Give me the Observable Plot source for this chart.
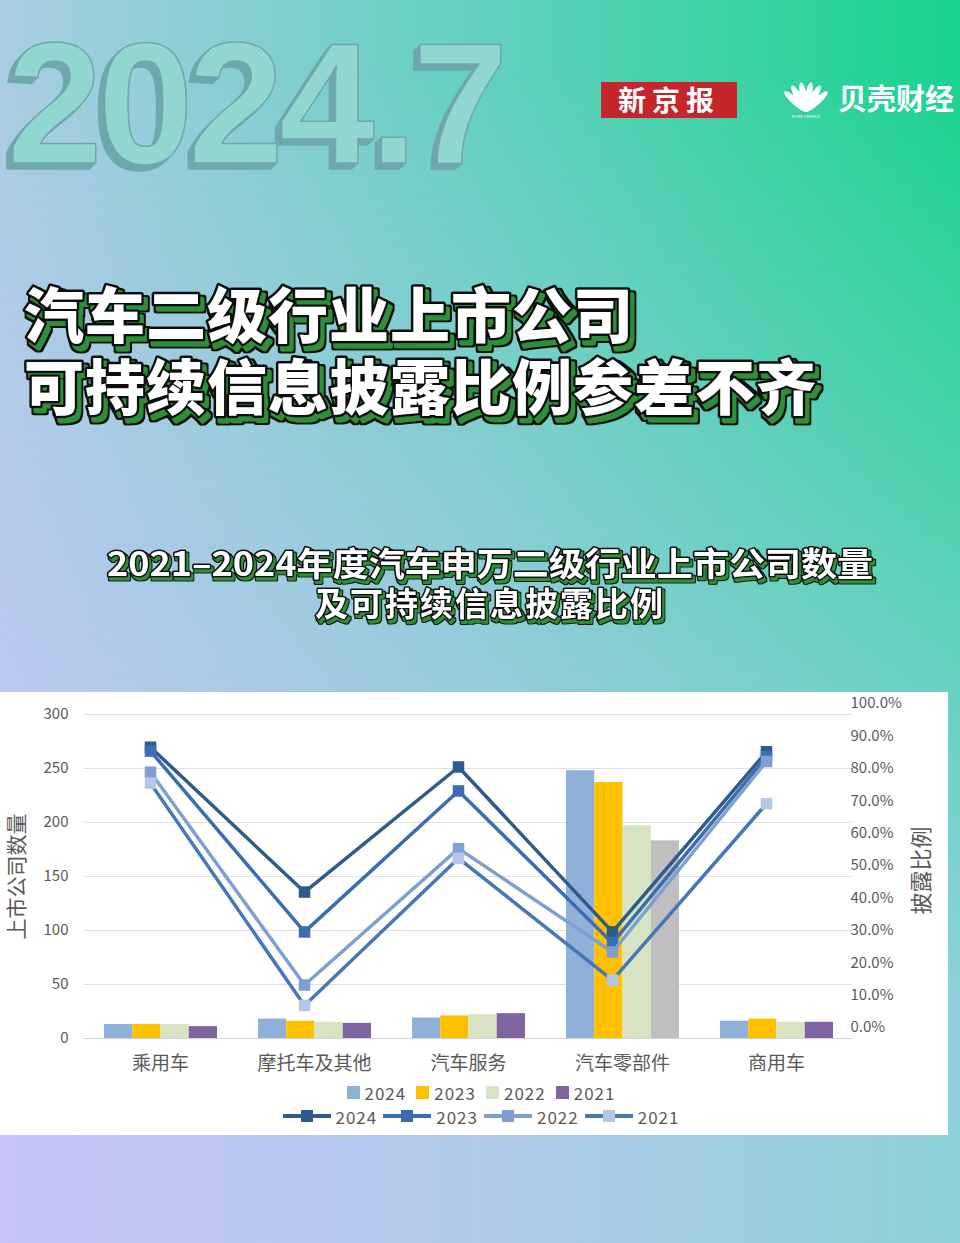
<!DOCTYPE html>
<html><head><meta charset="utf-8">
<script src="https://cdn.jsdelivr.net/npm/d3@7"></script>
<script src="https://cdn.jsdelivr.net/npm/@observablehq/plot@0.6"></script>
<style>
html,body{margin:0;padding:0;}
body{width:960px;height:1243px;position:relative;overflow:hidden;font-family:"Noto Sans CJK SC","Noto Sans",sans-serif;}
.bg1{position:absolute;left:0;top:0;width:960px;height:1243px;background:linear-gradient(to right,#a9cde3 0%,#62d1bf 50%,#18d38d 100%);}
.bg2{position:absolute;left:0;top:0;width:960px;height:1243px;background:linear-gradient(to right,#c6c5f6 0%,#b1c9ea 50%,#8dd1d8 100%);
 -webkit-mask-image:linear-gradient(to bottom,rgba(0,0,0,0) 5%,rgba(0,0,0,1) 80%);mask-image:linear-gradient(to bottom,rgba(0,0,0,0) 5%,rgba(0,0,0,1) 80%);}
#header{position:absolute;left:0;top:0;}
#panel{position:absolute;left:0;top:692px;width:948px;height:443px;background:#fff;}
#chart{position:absolute;left:0;top:0;}
#legend{position:absolute;left:0;top:388px;width:962px;color:#595959;font-size:17px;letter-spacing:1px;}
.row{display:flex;justify-content:center;align-items:center;height:24px;}
.item{display:flex;align-items:center;margin:0 5px;}
.item svg{display:block;margin-right:5px;}
</style></head>
<body>
<div class="bg1"></div><div class="bg2"></div>
<svg id="header" width="960" height="680" xmlns="http://www.w3.org/2000/svg">
  <defs>
    <filter id="extrude" x="-3%" y="-5%" width="106%" height="112%">
      <feFlood flood-color="#6ea8ad"/>
      <feComposite in2="SourceAlpha" operator="in" result="c"/>
      <feOffset in="c" dx="-2" dy="2" result="o1"/>
      <feOffset in="c" dx="-4" dy="4" result="o2"/>
      <feOffset in="c" dx="-6" dy="6" result="o3"/>
      <feMerge><feMergeNode in="o3"/><feMergeNode in="o2"/><feMergeNode in="o1"/><feMergeNode in="SourceGraphic"/></feMerge>
    </filter>
    <filter id="tshadow" x="-2%" y="-5%" width="104%" height="115%">
      <feOffset in="SourceAlpha" dx="4" dy="5" result="off"/>
      <feFlood flood-color="#2f8f3a"/>
      <feComposite in2="off" operator="in" result="green"/>
      <feMorphology in="off" operator="dilate" radius="1.5" result="offd"/>
      <feFlood flood-color="#111"/>
      <feComposite in2="offd" operator="in" result="black"/>
      <feMerge><feMergeNode in="black"/><feMergeNode in="green"/><feMergeNode in="SourceGraphic"/></feMerge>
    </filter>
    <filter id="sshadow" x="-2%" y="-5%" width="104%" height="112%">
      <feOffset in="SourceAlpha" dx="2" dy="3" result="off"/>
      <feFlood flood-color="#2f8f3a"/>
      <feComposite in2="off" operator="in" result="green"/>
      <feMorphology in="off" operator="dilate" radius="1" result="offd"/>
      <feFlood flood-color="#111"/>
      <feComposite in2="offd" operator="in" result="black"/>
      <feMerge><feMergeNode in="black"/><feMergeNode in="green"/><feMergeNode in="SourceGraphic"/></feMerge>
    </filter>
  </defs>
  <text x="7" y="163" font-family="Liberation Sans, Arial, sans-serif" font-size="172" font-weight="700" letter-spacing="-5"
        fill="#92d7cf" stroke="#6ea8ad" stroke-width="1.5" filter="url(#extrude)">2024.7</text>
  <rect x="601" y="82" width="136" height="36" fill="#c4262c"/>
  <text x="669" y="111" text-anchor="middle" fill="#fff" font-size="28" font-weight="700" letter-spacing="6" font-family="Noto Sans CJK SC">新京报</text>
  <g id="shell" fill="#fff"></g>
  <text x="838" y="110" fill="#fff" font-size="29" font-weight="700" font-family="Noto Sans CJK SC">贝壳财经</text>
  <text font-family="Noto Sans CJK SC" font-weight="900" font-size="60" letter-spacing="1" paint-order="stroke" stroke-linejoin="round"
        fill="#fff" stroke="#111" stroke-width="5" filter="url(#tshadow)"><tspan x="24" y="338">汽车二级行业上市公司</tspan><tspan x="24" y="410">可持续信息披露比例参差不齐</tspan></text>
  <text font-family="Noto Sans CJK SC" font-weight="700" font-size="33" text-anchor="middle" paint-order="stroke" stroke-linejoin="round"
        fill="#fff" stroke="#111" stroke-width="3" filter="url(#sshadow)"><tspan x="490" y="576" textLength="766" lengthAdjust="spacingAndGlyphs">2021–2024年度汽车申万二级行业上市公司数量</tspan><tspan x="490" y="616" letter-spacing="2">及可持续信息披露比例</tspan></text>
</svg>
<div id="panel">
  <div id="chart"></div>
  <div id="legend"></div>
</div>
<script>
const categories = ["乘用车", "摩托车及其他", "汽车服务", "汽车零部件", "商用车"];
const years = ["2024", "2023", "2022", "2021"];

// 上市公司数量 (bars)
const count2024 = [13, 18, 19, 248, 16];
const count2023 = [13, 16, 21, 237, 18];
const count2022 = [13, 15, 22, 197, 15];
const count2021 = [11, 14, 23, 183, 15];

// 披露比例 % (lines)
const ratio2024 = [89.9, 45.2, 83.8, 32.9, 88.5];
const ratio2023 = [88.7, 32.9, 76.4, 29.5, 87.0];
const ratio2022 = [82.2, 16.5, 58.6, 26.7, 85.5];
const ratio2021 = [78.8, 10.2, 55.6, 18.0, 72.5];

const countTicks = [0, 50, 100, 150, 200, 250, 300];
const ratioTicks = [0, 10, 20, 30, 40, 50, 60, 70, 80, 90, 100];

const countsByYear = {"2024": count2024, "2023": count2023, "2022": count2022, "2021": count2021};
const ratiosByYear = {"2024": ratio2024, "2023": ratio2023, "2022": ratio2022, "2021": ratio2021};

const barFill = {"2024": "#8fb1d9", "2023": "#ffc000", "2022": "#d7e3c3", "2021": "#8064a2"};
const lineStroke = {"2024": "#2f5b8b", "2023": "#3a6eae", "2022": "#7e9fd0", "2021": "#4677b6"};
const markerFill = {"2024": "#2f5b8b", "2023": "#3a6eae", "2022": "#7e9fd0", "2021": "#b5c7e6"};

const ratioToCount = 3; // 100% on the right axis = 300 on the left axis

const barRows = years.flatMap(y => categories.map((c, j) => ({category: c, year: y, count: countsByYear[y][j]})));
const lineRows = years.flatMap(y => categories.map((c, j) => ({category: c, year: y, ratio: ratiosByYear[y][j]})));

const band = 154, groupStart = 21, barW = 28.25;
const barMarks = years.map((y, i) => Plot.barY(barRows.filter(d => d.year === y), {
  x: "category", y: "count",
  fill: d => (d.category === "汽车零部件" && d.year === "2021") ? "#bfbfbf" : barFill[y],
  insetLeft: groupStart + barW * i,
  insetRight: band - groupStart - barW * (i + 1)
}));

const lineMarks = years.flatMap(y => {
  const rows = lineRows.filter(d => d.year === y);
  return [
    Plot.line(rows, {x: "category", y: d => d.ratio * ratioToCount, stroke: lineStroke[y], strokeWidth: 3.5, dx: -10}),
    Plot.dot(rows, {x: "category", y: d => d.ratio * ratioToCount, symbol: "square", r: 6.5, fill: markerFill[y], dx: -10})
  ];
});

const chart = Plot.plot({
  width: 948, height: 388,
  marginLeft: 83, marginRight: 95, marginTop: 22, marginBottom: 42,
  style: {background: "transparent", fontFamily: "'Noto Sans CJK SC', 'Noto Sans', sans-serif", color: "#595959", overflow: "visible"},
  x: {domain: categories, padding: 0},
  y: {domain: [0, 300]},
  color: {type: "identity"},
  marks: [
    Plot.gridY(countTicks.filter(d => d > 0), {stroke: "#e0e0e0", strokeOpacity: 1}),
    Plot.ruleY([0], {stroke: "#d4d4d4"}),
    ...barMarks,
    Plot.axisY(countTicks, {anchor: "left", tickSize: 0, tickPadding: 15, fontSize: 15, fill: "#595959", label: null}),
    Plot.axisY(ratioTicks.map(r => r * ratioToCount), {anchor: "right", tickSize: 0, tickPadding: -3, dy: -11, fontSize: 15, fill: "#595959",
      tickFormat: d => (d / ratioToCount).toFixed(1) + "%", label: null}),
    Plot.axisX({tickSize: 0, tickPadding: 18, fontSize: 19, fill: "#595959", label: null}),
    Plot.text(["上市公司数量"], {frameAnchor: "left", rotate: -90, dx: -66, fontSize: 21, fill: "#595959", textAnchor: "middle", lineAnchor: "middle"}),
    Plot.text(["披露比例"], {frameAnchor: "right", rotate: -90, dx: 68, dy: -6, fontSize: 22, fill: "#595959", textAnchor: "middle", lineAnchor: "middle"}),
    ...lineMarks
  ]
});
document.getElementById("chart").appendChild(chart);

// Legend
const legend = document.getElementById("legend");
const ns = "http://www.w3.org/2000/svg";
function row() { const r = document.createElement("div"); r.className = "row"; legend.appendChild(r); return r; }
const r1 = row(), r2 = row();
years.forEach(y => {
  const it = document.createElement("div"); it.className = "item";
  it.innerHTML = `<svg width="13" height="13"><rect width="13" height="13" fill="${barFill[y]}"/></svg><span>${y}</span>`;
  r1.appendChild(it);
});
years.forEach(y => {
  const it = document.createElement("div"); it.className = "item";
  it.style.margin = "0 3px";
  it.innerHTML = `<svg width="48" height="14"><line x1="0" x2="48" y1="7" y2="7" stroke="${lineStroke[y]}" stroke-width="4"/><rect x="18" y="1" width="12" height="12" fill="${markerFill[y]}"/></svg><span>${y}</span>`;
  r2.appendChild(it);
});

// Shell logo for 贝壳财经
const shell = document.getElementById("shell");
const cx = 806, cy = 111;
[-48, -29, -10, 10, 29, 48].forEach(a => {
  const rad = a * Math.PI / 180, d = 14;
  const ex = cx + d * Math.sin(rad), ey = cy - d * Math.cos(rad);
  const e = document.createElementNS(ns, "ellipse");
  e.setAttribute("cx", ex); e.setAttribute("cy", ey);
  e.setAttribute("rx", 3.6); e.setAttribute("ry", 15);
  e.setAttribute("transform", `rotate(${a} ${ex} ${ey})`);
  shell.appendChild(e);
});
const st = document.createElementNS(ns, "text");
st.setAttribute("x", cx); st.setAttribute("y", 118); st.setAttribute("font-size", "4");
st.setAttribute("text-anchor", "middle"); st.textContent = "BEIKE FINANCE";
shell.appendChild(st);
</script>
</body></html>
